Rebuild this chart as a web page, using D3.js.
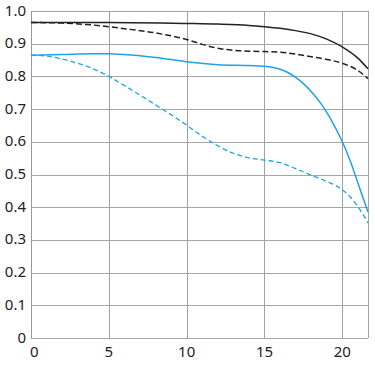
<!DOCTYPE html>
<html>
<head>
<meta charset="utf-8">
<script src="https://cdn.jsdelivr.net/npm/d3@7"></script>
<style>
  body { margin: 0; background: #fff; }
  text { font-family: "Noto Sans", sans-serif; font-size: 15px; fill: #222; }
</style>
</head>
<body>
<script>
// chart data
var xTicks = [0, 5, 10, 15, 20];
var yTicks = [0, 0.1, 0.2, 0.3, 0.4, 0.5, 0.6, 0.7, 0.8, 0.9, 1.0];
var xMax = 21.65;

var blackSolidX = [0, 5, 10, 12, 14, 15, 16, 17, 18, 19, 20, 21, 21.65];
var blackSolidY = [0.965, 0.965, 0.962, 0.96, 0.956, 0.952, 0.947, 0.94, 0.93, 0.914, 0.89, 0.856, 0.823];

var blackDashX = [0, 2, 4, 5, 6, 8, 9, 10, 11, 12, 13, 14, 15, 16, 17, 18, 19, 20, 21, 21.65];
var blackDashY = [0.965, 0.963, 0.957, 0.952, 0.946, 0.933, 0.924, 0.913, 0.898, 0.886, 0.88, 0.877, 0.876, 0.874, 0.868, 0.86, 0.852, 0.84, 0.818, 0.793];

var blueSolidX = [0, 2, 4, 5, 6, 8, 10, 12, 14, 15, 15.5, 16, 16.5, 17, 17.5, 18, 18.5, 19, 19.5, 20, 20.5, 21, 21.65];
var blueSolidY = [0.865, 0.867, 0.869, 0.869, 0.867, 0.858, 0.845, 0.836, 0.833, 0.831, 0.828, 0.822, 0.812, 0.797, 0.778, 0.754, 0.725, 0.69, 0.648, 0.6, 0.543, 0.474, 0.385];

var blueDashX = [0, 1, 2, 3, 4, 5, 6, 7, 8, 9, 10, 11, 12, 13, 14, 15, 16, 17, 18, 19, 19.5, 20, 20.5, 21, 21.65];
var blueDashY = [0.865, 0.862, 0.853, 0.84, 0.823, 0.8, 0.772, 0.743, 0.713, 0.683, 0.651, 0.617, 0.588, 0.565, 0.551, 0.544, 0.536, 0.518, 0.498, 0.479, 0.468, 0.453, 0.432, 0.402, 0.352];

var width = 375, height = 373;
var margin = {left: 31, right: 7, top: 11, bottom: 35};

var svg = d3.select("body").append("svg")
  .attr("width", width)
  .attr("height", height);

var x = d3.scaleLinear().domain([0, xMax]).range([margin.left, width - margin.right]);
var y = d3.scaleLinear().domain([0, 1]).range([height - margin.bottom, margin.top]);

// grid
svg.append("g").selectAll("line")
  .data(yTicks)
  .enter().append("line")
    .attr("x1", x(0)).attr("x2", x(xMax))
    .attr("y1", function(d) { return Math.round(y(d)) + 0.5; })
    .attr("y2", function(d) { return Math.round(y(d)) + 0.5; })
    .attr("stroke", "#a6a6a6");

svg.append("g").selectAll("line")
  .data(xTicks.concat([xMax]))
  .enter().append("line")
    .attr("y1", y(0)).attr("y2", y(1))
    .attr("x1", function(d) { return Math.round(x(d)) + 0.5; })
    .attr("x2", function(d) { return Math.round(x(d)) + 0.5; })
    .attr("stroke", function(d) { return d == 0 ? "#999" : "#a0a0a0"; });

// tick labels
svg.append("g").selectAll("text")
  .data(yTicks)
  .enter().append("text")
    .attr("x", 26)
    .attr("y", function(d) { return y(d); })
    .attr("dy", "0.3em")
    .attr("text-anchor", "end")
    .text(function(d) { return d == 0 ? "0" : d3.format(".1f")(d); });

svg.append("g").selectAll("text")
  .data(xTicks)
  .enter().append("text")
    .attr("x", function(d) { return d == 0 ? x(d) - 1 : x(d); })
    .attr("y", 357)
    .attr("text-anchor", function(d) { return d == 0 ? "start" : "middle"; })
    .text(function(d) { return d; });

// curves
var line = d3.line()
  .x(function(d) { return x(d[0]); })
  .y(function(d) { return y(d[1]); })
  .curve(d3.curveMonotoneX);

function series(xs, ys, color, dash, w) {
  var pts = d3.zip(xs, ys);
  svg.append("path")
    .datum(pts)
    .attr("d", line)
    .attr("fill", "none")
    .attr("stroke", color)
    .attr("stroke-width", w)
    .attr("stroke-dasharray", dash);
}

series(blueDashX, blueDashY, "#1ea4e6", "5,3", 1.3);
series(blueSolidX, blueSolidY, "#1ea4e6", null, 1.5);
series(blackDashX, blackDashY, "#222", "6,3", 1.5);
series(blackSolidX, blackSolidY, "#222", null, 1.5);

console.log("End js");
</script>
</body>
</html>
